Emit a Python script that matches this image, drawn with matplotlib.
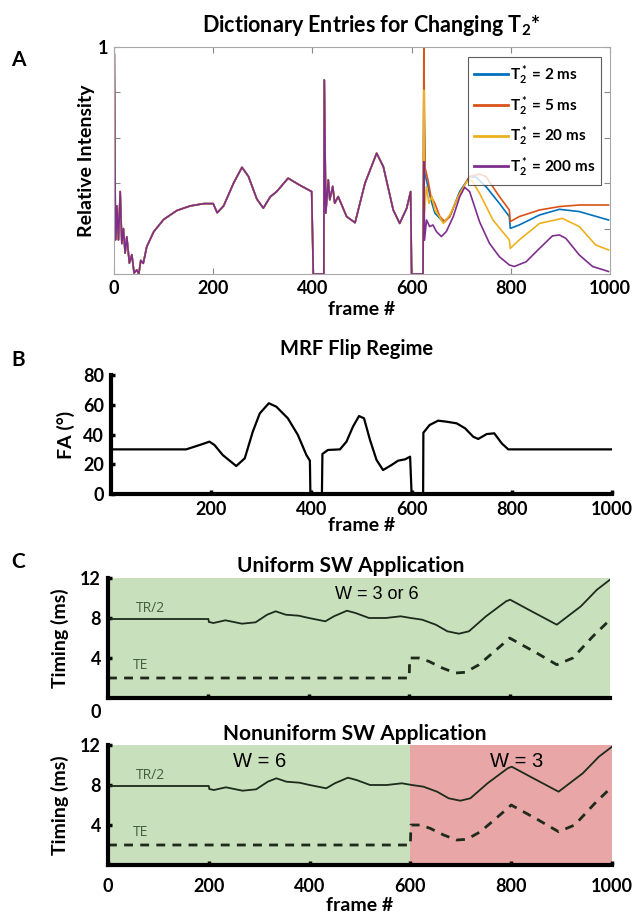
import matplotlib
matplotlib.use('Agg')
import matplotlib.pyplot as plt
import numpy as np

plt.rcParams['font.family'] = ['Lato', 'DejaVu Sans']
plt.rcParams['font.weight'] = 'bold'
plt.rcParams['axes.labelweight'] = 'bold'
plt.rcParams['mathtext.fontset'] = 'custom'
plt.rcParams['mathtext.rm'] = 'Lato:bold'
plt.rcParams['mathtext.it'] = 'Lato:bold'
plt.rcParams['mathtext.bf'] = 'Lato:bold'

# ---- panel A: dictionary entries (frame, relative intensity) ----
# shared part, frames 0..623 (all T2* entries overlap here)
a_frames_early = [0, 0.5, 3, 5.8, 9, 12.5, 15.8, 19, 22.4, 25.8, 31, 36, 40.5, 45.8, 50, 54, 59, 66,
                  80, 100, 127, 154, 181, 200, 208, 221, 241, 258, 271, 288, 301, 315, 328, 351, 374,
                  398.5, 401.8, 423, 424, 427, 432, 435, 441, 445, 452, 469, 486, 506, 529.5, 543,
                  563, 576, 590, 598, 600, 623]
a_vals_early = [0.72, 0.97, 0.15, 0.30, 0.15, 0.363, 0.134, 0.20, 0.092, 0.164, 0.048, 0.085, 0.004,
                0.018, 0.0, 0.06, 0.047, 0.12, 0.186, 0.24, 0.28, 0.30, 0.31, 0.31, 0.27, 0.30, 0.40,
                0.47, 0.43, 0.33, 0.29, 0.34, 0.363, 0.422, 0.392, 0.363, 0.0, 0.0, 0.855, 0.268,
                0.415, 0.327, 0.386, 0.312, 0.341, 0.253, 0.226, 0.40, 0.532, 0.473, 0.282, 0.223,
                0.289, 0.363, 0.0, 0.0]

# late part per entry, frames 624..1000
f2_frames = [624.7, 627, 633, 639, 647, 657, 664, 677, 697, 717, 730, 750, 777, 797, 799, 817, 858, 898, 938, 997]
f2_vals = [0.80, 0.44, 0.385, 0.326, 0.268, 0.245, 0.23, 0.253, 0.363, 0.429, 0.426, 0.385, 0.311,
           0.253, 0.201, 0.216, 0.26, 0.285, 0.275, 0.238]
f5_frames = [624.7, 627, 633, 639, 647, 657, 667, 677, 697, 717, 737, 750, 777, 797, 799, 817, 858, 898, 938, 997]
f5_vals = [1.0, 0.47, 0.414, 0.341, 0.311, 0.253, 0.23, 0.253, 0.356, 0.429, 0.44, 0.429, 0.341,
           0.282, 0.231, 0.253, 0.282, 0.297, 0.304, 0.304]
f20_frames = [624.7, 626, 630, 635, 641, 647, 654, 664, 677, 694, 711, 721, 737, 764, 797, 799, 817,
              858, 904, 938, 971, 997]
f20_vals = [0.81, 0.268, 0.385, 0.311, 0.341, 0.282, 0.26, 0.223, 0.26, 0.341, 0.407, 0.414, 0.356,
            0.238, 0.15, 0.113, 0.15, 0.223, 0.245, 0.209, 0.128, 0.106]
f200_frames = [624.7, 626, 630, 636.5, 643, 650, 660, 670, 684, 697, 707, 717, 737, 757, 777, 797, 807,
               831, 858, 884, 898, 911, 938, 965, 997]
f200_vals = [0.495, 0.149, 0.238, 0.209, 0.216, 0.187, 0.165, 0.187, 0.253, 0.34, 0.382, 0.363, 0.23,
             0.135, 0.076, 0.04, 0.033, 0.054, 0.113, 0.168, 0.172, 0.157, 0.084, 0.033, 0.011]

t2_labels = ['T$^*_2$ = 2 ms', 'T$^*_2$ = 5 ms', 'T$^*_2$ = 20 ms', 'T$^*_2$ = 200 ms']
t2_colors = ['#0072BD', '#D95319', '#EDB120', '#7E2F8E']

# ---- panel B: flip angle regime ----
fa_frames = [0, 150, 176.6, 196.6, 206.6, 223, 250, 267, 283, 297, 315, 330, 353, 373, 390, 397, 398,
             421, 422, 433, 457, 470, 483, 495, 505, 517, 530, 543, 560, 573, 587, 597, 600, 623, 623.5,
             636, 653, 670, 690, 707, 723, 733, 750, 765, 780, 793, 1000]
fa_vals = [30, 30, 32.9, 35.2, 32.9, 26.2, 18.8, 24, 41.9, 54.2, 61, 58.7, 50.9, 39.7, 26.2, 22.4, 0,
           0, 26.9, 29.6, 30, 35.2, 45.3, 52.4, 50.9, 36.3, 22.9, 16.1, 19.5, 22.4, 23.3, 25.1, 0, 0,
           41.2, 46.4, 49.3, 48.6, 47.5, 44.1, 38.5, 37, 40.3, 40.8, 34, 30, 30]

# ---- panel C: timing (ms) ----
tr_frames = [0, 200, 201, 210, 234, 267, 294, 317, 334, 354, 380, 400, 433, 450, 476, 493, 520, 553,
             583, 603, 626, 653, 676, 699, 719, 753, 793, 801, 838, 894, 942, 974, 1000]
tr_vals = [7.9, 7.9, 7.6, 7.5, 7.77, 7.43, 7.57, 8.33, 8.67, 8.33, 8.23, 8.0, 7.67, 8.17, 8.73, 8.5,
           8.0, 8.0, 8.17, 8.0, 7.83, 7.33, 6.67, 6.43, 6.67, 8.17, 9.67, 9.83, 8.83, 7.33, 9.17,
           10.83, 11.83]
te_frames = [0, 600, 601, 619, 639, 666, 692, 712, 739, 766, 793, 800, 854, 894, 926, 966, 1000]
te_vals = [2.0, 2.0, 4.0, 4.0, 3.67, 3.0, 2.5, 2.57, 3.33, 4.5, 5.67, 6.0, 4.5, 3.33, 4.0, 6.17, 7.83]

frame_ticks = [0, 200, 400, 600, 800, 1000]
green = '#C9E0BD'
red = '#E8A7A6'
line_dark = '#1d2a1c'
text_green = '#45603f'

fig = plt.figure(figsize=(6.33, 9.13), dpi=100)
W, H = 633, 913


def px_axes(x0, y0, x1, y1):
    return fig.add_axes([x0 / W, 1 - y1 / H, (x1 - x0) / W, (y1 - y0) / H])


# ---------------- panel A ----------------
axA = px_axes(114, 47, 610, 274)
for lab, col, lf, lv in zip(t2_labels, t2_colors,
                            [f2_frames, f5_frames, f20_frames, f200_frames],
                            [f2_vals, f5_vals, f20_vals, f200_vals]):
    axA.plot(a_frames_early + lf, a_vals_early + lv, color=col, lw=1.2, label=lab)
axA.set_xlim(0, 1000)
axA.set_ylim(0, 1)
axA.set_xticks(frame_ticks)
axA.set_xticklabels([str(t) for t in frame_ticks], fontsize=13)
axA.get_xticklabels()[0].set_x(-10)
axA.set_yticks([0, 0.2, 0.4, 0.6, 0.8, 1])
axA.set_yticklabels(['', '', '', '', '', '1'], fontsize=13)
axA.tick_params(direction='in', top=True, right=True, length=4, color='#888888', width=0.8, pad=4)
for s in axA.spines.values():
    s.set_color('#a8a8a8')
    s.set_linewidth(0.8)
axA.set_ylabel('Relative Intensity', fontsize=14, labelpad=2)
axA.set_xlabel('frame #', fontsize=14, labelpad=3)
leg = axA.legend(loc='upper right', bbox_to_anchor=(0.982, 0.957), fontsize=11, frameon=True,
                 fancybox=False, handlelength=2.2, handletextpad=0.1, labelspacing=0.45,
                 borderpad=0.4, borderaxespad=0)
leg.get_frame().set_edgecolor('#333333')
leg.get_frame().set_linewidth(0.8)
for lh in leg.get_lines():
    lh.set_linewidth(2)
fig.text(371 / W, 1 - 25 / H, 'Dictionary Entries for Changing T$_2$*', ha='center', va='center',
         fontsize=15.5)
fig.text(18 / W, 1 - 60 / H, 'A', ha='center', va='center', fontsize=15)

# ---------------- panel B ----------------
axB = px_axes(111, 375, 612, 494)
axB.plot(fa_frames, fa_vals, color='black', lw=1.6)
axB.set_xlim(0, 1000)
axB.set_ylim(0, 80)
axB.set_xticks([200, 400, 600, 800, 1000])
axB.set_xticklabels(['200', '400', '600', '800', '1000'], fontsize=13)
axB.set_yticks([0, 20, 40, 60, 80])
axB.set_yticklabels(['0', '20', '40', '60', '80'], fontsize=13)
axB.tick_params(direction='in', length=3, width=2.5, pad=5)
for s in ['top', 'right']:
    axB.spines[s].set_visible(False)
for s in ['left', 'bottom']:
    axB.spines[s].set_linewidth(3)
axB.set_ylabel('FA (°)', fontsize=14, labelpad=6)
axB.set_xlabel('frame #', fontsize=14, labelpad=-1)
fig.text(357 / W, 1 - 349 / H, 'MRF Flip Regime', ha='center', va='center', fontsize=14.5)
fig.text(18 / W, 1 - 360 / H, 'B', ha='center', va='center', fontsize=15)


# ---------------- panel C ----------------
def timing_axes(ax):
    ax.plot(tr_frames, tr_vals, color=line_dark, lw=1.3)
    ax.plot(te_frames, te_vals, color=line_dark, lw=2, ls=(0, (3.2, 2.6)))
    ax.set_xlim(0, 1000)
    ax.set_ylim(0, 12)
    ax.set_xticks([200, 400, 600, 800])
    ax.set_yticks([4, 8, 12])
    ax.set_yticklabels(['4', '8', '12'], fontsize=13)
    ax.tick_params(direction='in', length=3, width=2.5, pad=5)
    for s in ['top', 'right']:
        ax.spines[s].set_visible(False)
    for s in ['left', 'bottom']:
        ax.spines[s].set_linewidth(3)
    ax.set_ylabel('Timing (ms)', fontsize=14, labelpad=8)
    ax.text(0.055, 0.72, 'TR/2', transform=ax.transAxes, fontsize=10, fontweight='normal',
            color=text_green, family=['Open Sans', 'DejaVu Sans'])
    ax.text(0.05, 0.24, 'TE', transform=ax.transAxes, fontsize=10, fontweight='normal',
            color=text_green, family=['Open Sans', 'DejaVu Sans'])


axC1 = px_axes(108, 578, 610, 698)
axC1.axvspan(0, 1000, color=green, zorder=0, lw=0)
timing_axes(axC1)
axC1.set_xticklabels([])
axC1.text(-0.025, -0.125, '0', transform=axC1.transAxes, ha='center', va='center', fontsize=13)
axC1.text(0.535, 0.86, 'W = 3 or 6', transform=axC1.transAxes, ha='center', va='center',
          fontsize=13, fontweight='normal', family=['Liberation Sans', 'DejaVu Sans'])
fig.text(351 / W, 1 - 566 / H, 'Uniform SW Application', ha='center', va='center', fontsize=15)
fig.text(18 / W, 1 - 562 / H, 'C', ha='center', va='center', fontsize=15)

axC2 = px_axes(108, 745, 612, 865)
axC2.axvspan(0, 600, color=green, zorder=0, lw=0)
axC2.axvspan(600, 1000, color=red, zorder=0, lw=0)
timing_axes(axC2)
axC2.set_xticks(frame_ticks)
axC2.set_xticklabels([str(t) for t in frame_ticks], fontsize=13)
axC2.tick_params(axis='x', pad=9)
axC2.get_xticklabels()[0].set_x(-22)
axC2.text(0.3, 0.86, 'W = 6', transform=axC2.transAxes, ha='center', va='center',
          fontsize=14.5, fontweight='normal', family=['Liberation Sans', 'DejaVu Sans'])
axC2.text(0.81, 0.86, 'W = 3', transform=axC2.transAxes, ha='center', va='center',
          fontsize=14.5, fontweight='normal', family=['Liberation Sans', 'DejaVu Sans'])
axC2.set_xlabel('frame #', fontsize=14, labelpad=2)
fig.text(355 / W, 1 - 734 / H, 'Nonuniform SW Application', ha='center', va='center', fontsize=15)

fig.savefig('out.png', dpi=100)
